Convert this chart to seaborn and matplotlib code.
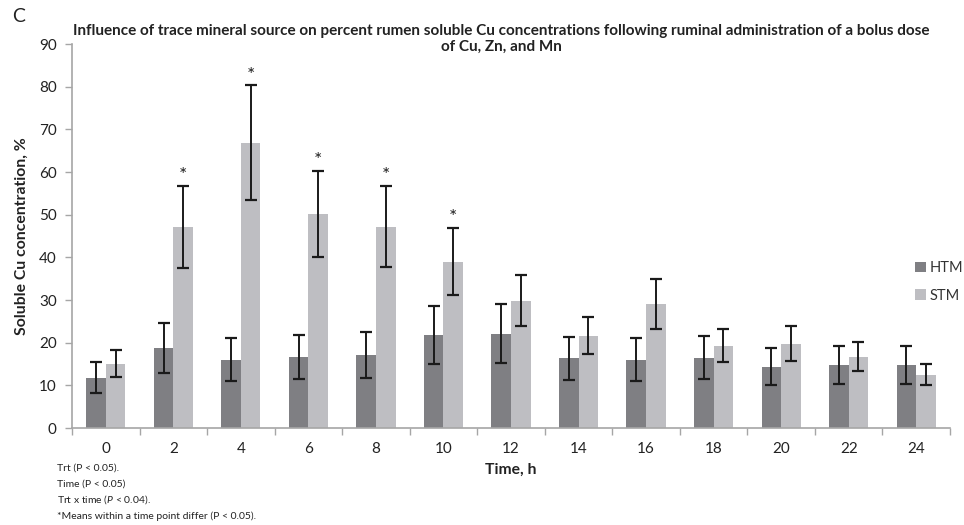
import numpy as np
import pandas as pd
import matplotlib
matplotlib.use("Agg")
import matplotlib.pyplot as plt
import seaborn as sns

# ---- data ----
times = ["0", "2", "4", "6", "8", "10", "12", "14", "16", "18", "20", "22", "24"]
htm_mean = [11.8, 18.8, 16.0, 16.7, 17.2, 21.9, 22.1, 16.3, 16.0, 16.5, 14.4, 14.8, 14.8]
htm_se = [3.7, 5.8, 5.0, 5.2, 5.4, 6.8, 6.9, 5.1, 5.1, 5.1, 4.4, 4.5, 4.5]
stm_mean = [15.1, 47.2, 66.9, 50.2, 47.2, 39.0, 29.8, 21.6, 29.1, 19.3, 19.8, 16.7, 12.5]
stm_se = [3.1, 9.6, 13.4, 10.1, 9.5, 7.9, 6.0, 4.3, 5.9, 3.9, 4.0, 3.4, 2.4]
signif = ["2", "4", "6", "8", "10"]
treatments = ["HTM", "STM"]
colors = ["#7f7f83", "#bebec2"]
yticks = [0, 10, 20, 30, 40, 50, 60, 70, 80, 90]
footnotes = ["Trt (P < 0.05).", "Time (P < 0.05)", r"Trt x time ($\it{P}$ < 0.04).",
             "*Means within a time point differ (P < 0.05)."]

df = pd.DataFrame({
    "time": times * 2,
    "trt": ["HTM"] * len(times) + ["STM"] * len(times),
    "value": htm_mean + stm_mean,
})

sns.set_theme(style="white")
plt.rcParams["font.family"] = ["Lato", "DejaVu Sans"]
plt.rcParams["mathtext.fontset"] = "custom"
plt.rcParams["mathtext.rm"] = "Lato"
plt.rcParams["mathtext.it"] = "Lato:italic"
plt.rcParams["mathtext.bf"] = "Lato:bold"

fig = plt.figure(figsize=(9.64, 5.25), dpi=100)
ax = fig.add_axes([72 / 964, 1 - 428 / 525, (950 - 72) / 964, (428 - 44) / 525])

sns.barplot(data=df, x="time", y="value", hue="trt", order=times, hue_order=treatments,
            palette=colors, width=0.58, saturation=1, errorbar=None, ax=ax,
            linewidth=0, gap=0)

errs = [htm_se, stm_se]
means = [htm_mean, stm_mean]
bar_containers = list(ax.containers)
for ci, cont in enumerate(bar_containers):
    xs = [p.get_x() + p.get_width() / 2 for p in cont.patches]
    ax.errorbar(xs, means[ci], yerr=errs[ci], fmt="none", ecolor="#1a1a1a",
                elinewidth=1.4, capsize=4, capthick=1.6, zorder=5)
    if ci == 1:
        for x, t, m, e in zip(xs, times, means[ci], errs[ci]):
            if t in signif:
                ax.text(x, m + e + 2.4, "*", ha="center", va="center", fontsize=14,
                        color="#222222")

ax.set_ylim(0, 90)
ax.set_xlim(-0.5, len(times) - 0.5)
ax.set_yticks(yticks)
ax.set_xticks(range(len(times)))
ax.set_xticklabels(times)
ax.set_xticks(np.arange(-0.5, len(times), 1.0), minor=True)
ax.tick_params(axis="x", which="major", length=0, pad=10, labelsize=11, colors="#222222")
ax.tick_params(axis="x", which="minor", length=5, width=1, color="#a6a6a6", direction="out", bottom=True)
ax.tick_params(axis="y", length=5, width=1, color="#a6a6a6", direction="out", left=True,
               labelsize=11, labelcolor="#222222", pad=6)

for s in ["top", "right"]:
    ax.spines[s].set_visible(False)
for s in ["left", "bottom"]:
    ax.spines[s].set_color("#a6a6a6")
    ax.spines[s].set_linewidth(1.2)

ax.set_xlabel("Time, h", fontsize=11.3, fontweight="bold", labelpad=5, color="#222222")
ax.set_ylabel("Soluble Cu concentration, %", fontsize=11.3, fontweight="bold", labelpad=7,
              color="#222222")

leg = ax.legend(loc="upper left", bbox_to_anchor=(0.953, 0.45), frameon=False, fontsize=10.5,
                handlelength=0.75, handleheight=0.75, handletextpad=0.25, labelspacing=0.95,
                borderaxespad=0)
for t in leg.get_texts():
    t.set_color("#333333")

fig.text(501 / 964, 1 - 39 / 525,
         "Influence of trace mineral source on percent rumen soluble Cu concentrations following ruminal administration of a bolus dose\nof Cu, Zn, and Mn",
         ha="center", va="center", fontsize=11, fontweight="bold", color="#222222", linespacing=1.2)
fig.text(12 / 964, 1 - 17 / 525, "C", ha="left", va="center", fontsize=14, color="#222222")

fy = [1 - 468 / 525, 1 - 484 / 525, 1 - 500 / 525, 1 - 516 / 525]
for y, txt in zip(fy, footnotes):
    fig.text(57 / 964, y, txt, fontsize=7.5, va="center", color="#222222")

fig.savefig("out.png", dpi=100)
